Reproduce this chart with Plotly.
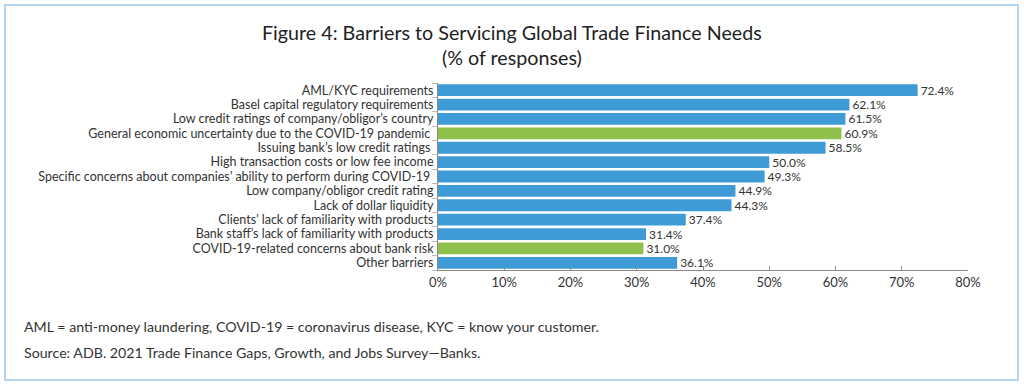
import plotly.graph_objects as go

categories = [
    "AML/KYC requirements",
    "Basel capital regulatory requirements",
    "Low credit ratings of company/obligor’s country",
    "General economic uncertainty due to the COVID-19 pandemic ",
    "Issuing bank’s low credit ratings ",
    "High transaction costs or low fee income",
    "Specific concerns about companies’ ability to perform during COVID-19 ",
    "Low company/obligor credit rating",
    "Lack of dollar liquidity",
    "Clients’ lack of familiarity with products",
    "Bank staff’s lack of familiarity with products",
    "COVID-19-related concerns about bank risk",
    "Other barriers",
]
values = [72.4, 62.1, 61.5, 60.9, 58.5, 50.0, 49.3, 44.9, 44.3, 37.4, 31.4, 31.0, 36.1]
covid_flag = [0, 0, 0, 1, 0, 0, 0, 0, 0, 0, 0, 1, 0]
tick_vals = [0, 10, 20, 30, 40, 50, 60, 70, 80]
tick_text = ["0%", "10%", "20%", "30%", "40%", "50%", "60%", "70%", "80%"]

BLUE = "#3f9bd5"
GREEN = "#8fc04b"
colors = [GREEN if f else BLUE for f in covid_flag]

FONT = "Lato, 'Open Sans', sans-serif"

fig = go.Figure()
fig.add_trace(go.Bar(
    x=values, y=categories, orientation="h",
    marker=dict(color=colors, line=dict(width=0)),
    width=0.82,
    text=[f"{v:.1f}%" for v in values],
    textposition="outside",
    constraintext="none",
    textfont=dict(family=FONT, size=12, color="#333333"),
    cliponaxis=False,
    hoverinfo="skip",
))

W, H = 1024, 388
L, R, T, B = 438, 56, 83, 118
pw = W - L - R
ph = H - T - B

def px_x(x):
    return (x - L) / pw

def px_y(y):
    return (H - B - y) / ph

fig.update_layout(
    width=W, height=H,
    margin=dict(l=L, r=R, t=T, b=B, autoexpand=False),
    paper_bgcolor="white", plot_bgcolor="white",
    showlegend=False,
    font=dict(family=FONT, color="#333333"),
    xaxis=dict(
        range=[0, 80], tickmode="array", tickvals=tick_vals, ticktext=tick_text,
        showgrid=False, zeroline=False,
        showline=True, linecolor="#8a8a8a", linewidth=1,
        ticks="inside", ticklen=4, tickcolor="#8a8a8a",
        tickfont=dict(family=FONT, size=13, color="#333333"),
        automargin=False,
        fixedrange=True,
    ),
    yaxis=dict(
        autorange="reversed",
        tickmode="array", tickvals=categories, ticktext=categories,
        showgrid=False, zeroline=False,
        showline=True, linecolor="#8a8a8a", linewidth=1,
        ticks="outside", ticklen=5, tickcolor="#bbbbbb",
        tickson="boundaries",
        tickfont=dict(family=FONT, size=12.5, color="#333333"),
        ticklabelstandoff=1,
        automargin=False,
        fixedrange=True,
    ),
    annotations=[
        dict(text="Figure 4: Barriers to Servicing Global Trade Finance Needs",
             xref="paper", yref="paper", x=px_x(512), y=px_y(32),
             xanchor="center", yanchor="middle", showarrow=False,
             font=dict(family=FONT, size=19.7, color="#222222")),
        dict(text="(% of responses)",
             xref="paper", yref="paper", x=px_x(512), y=px_y(57),
             xanchor="center", yanchor="middle", showarrow=False,
             font=dict(family=FONT, size=19.7, color="#222222")),
        dict(text="AML = anti-money laundering, COVID-19 = coronavirus disease, KYC = know your customer.",
             xref="paper", yref="paper", x=px_x(22), y=px_y(326),
             xanchor="left", yanchor="middle", showarrow=False,
             font=dict(family=FONT, size=14.2, color="#333333")),
        dict(text="Source: ADB. 2021 Trade Finance Gaps, Growth, and Jobs Survey—Banks.",
             xref="paper", yref="paper", x=px_x(22), y=px_y(352),
             xanchor="left", yanchor="middle", showarrow=False,
             font=dict(family=FONT, size=14.2, color="#333333")),
    ],
    shapes=[
        dict(type="rect", xref="paper", yref="paper",
             x0=px_x(5), x1=px_x(1018), y0=px_y(380), y1=px_y(5),
             line=dict(color="#9cc8ea", width=1.5), fillcolor="rgba(0,0,0,0)",
             layer="below"),
    ],
)

fig.write_html("out.html", config={"displayModeBar": False},
               post_script="document.body.style.margin='0';")
